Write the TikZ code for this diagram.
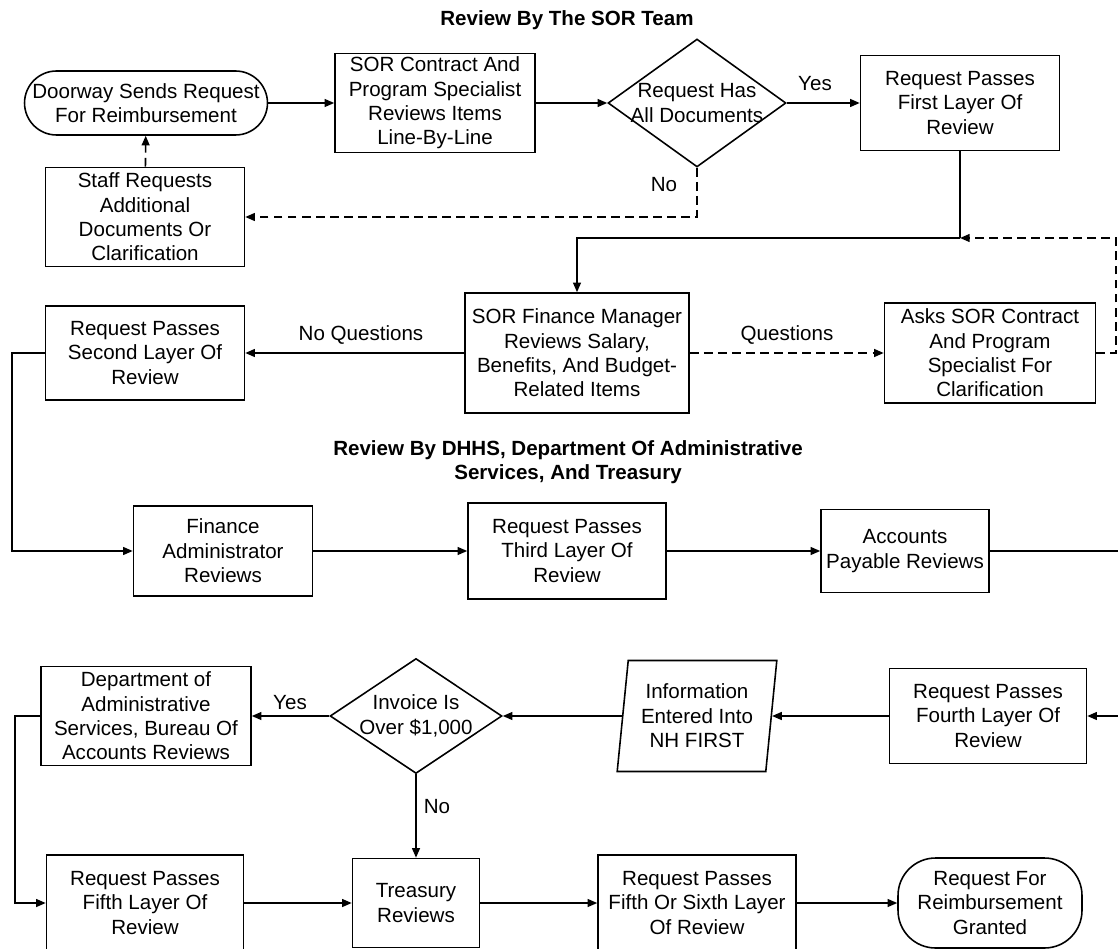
\documentclass[tikz,border=0pt]{standalone}
\usepackage{fontspec}
\setmainfont{Liberation Sans}
\usetikzlibrary{shapes.geometric,arrows.meta}

\begin{document}
\begin{tikzpicture}[
  x=0.02cm, y=-0.02cm,
  every node/.style={font=\fontsize{11.7}{13.9}\selectfont, align=center, inner sep=0pt},
  box/.style={draw, rectangle, line width=0.9pt},
  term/.style={draw, rectangle, rounded corners=#1, line width=0.9pt},
  decide/.style={draw, diamond, line width=0.9pt},
  inout/.style={draw, trapezium, trapezium left angle=82, trapezium right angle=98,
    trapezium stretches=true, line width=0.9pt},
  heading/.style={font=\fontsize{11.7}{13.9}\selectfont\bfseries},
  flow/.style={line width=0.9pt, -{Triangle[length=5.5pt,width=4.5pt]}},
  plainline/.style={line width=0.9pt},
  backflow/.style={flow, dash pattern=on 5pt off 3pt}
]
\useasboundingbox (0,0) rectangle (1118,949);

% review by the SOR team:
\node[heading] (title1) at (567,20) {Review By The SOR Team};
\node[term=0.64cm, minimum width=4.86cm, minimum height=1.28cm] (door) at (146,103) {Doorway Sends Request\\For Reimbursement};
\node[box, minimum width=4cm, minimum height=1.98cm] (spec) at (435,103) {SOR Contract And\\Program Specialist\\Reviews Items\\Line-By-Line};
\node[decide, minimum width=3.56cm, minimum height=2.56cm] (docs) at (697,103) {};
\node (docstext) at (docs) {Request Has\\All Documents};
\node[box, minimum width=3.98cm, minimum height=1.9cm] (pass1) at (960,103) {Request Passes\\First Layer Of\\Review};
\node[box, minimum width=3.98cm, minimum height=1.98cm] (staff) at (145,217) {Staff Requests\\Additional\\Documents Or\\Clarification};
\node (yes1) at (815,84) {Yes};
\node (no1) at (664,185) {No};

\node[box, minimum width=4.48cm, minimum height=2.4cm] (fin) at (577,353) {SOR Finance Manager\\Reviews Salary,\\Benefits, And Budget-\\Related Items};
\node[box, minimum width=3.98cm, minimum height=1.88cm] (pass2) at (145,353) {Request Passes\\Second Layer Of\\Review};
\node[box, minimum width=4.22cm, minimum height=2cm] (asks) at (990,353) {Asks SOR Contract\\And Program\\Specialist For\\Clarification};
\node (noq) at (361,335) {No Questions};
\node (quest) at (787,335) {Questions};

% review by DHHS, DAS and treasury:
\node[heading] (title2) at (568,462) {Review By DHHS, Department Of Administrative\\Services, And Treasury};
\node[box, minimum width=3.58cm, minimum height=1.8cm] (admin) at (223,551) {Finance\\Administrator\\Reviews};
\node[box, minimum width=3.96cm, minimum height=1.92cm] (pass3) at (567,551) {Request Passes\\Third Layer Of\\Review};
\node[box, minimum width=3.36cm, minimum height=1.66cm] (payable) at (905,551) {Accounts\\Payable Reviews};

\node[box, minimum width=3.94cm, minimum height=1.9cm] (pass4) at (988,716) {Request Passes\\Fourth Layer Of\\Review};
\node[inout, minimum width=3.2cm, minimum height=2.22cm] (nhfirst) at (697,716) {Information\\Entered Into\\NH FIRST};
\node[decide, minimum width=3.44cm, minimum height=2.3cm] (invoice) at (416,716) {};
\node (invoicetext) at (invoice) {Invoice Is\\Over \$1,000};
\node[box, minimum width=4.2cm, minimum height=1.98cm] (dept) at (146,716) {Department of\\Administrative\\Services, Bureau Of\\Accounts Reviews};
\node (yes2) at (290,703) {Yes};
\node (no2) at (437,807) {No};

\node[box, minimum width=3.94cm, minimum height=1.92cm] (pass5) at (145,903) {Request Passes\\Fifth Layer Of\\Review};
\node[box, minimum width=2.54cm, minimum height=1.78cm] (treasury) at (416,903) {Treasury\\Reviews};
\node[box, minimum width=3.96cm, minimum height=1.92cm] (pass56) at (697,903) {Request Passes\\Fifth Or Sixth Layer\\Of Review};
\node[term=0.75cm, minimum width=3.68cm, minimum height=1.8cm] (granted) at (990,903) {Request For\\Reimbursement\\Granted};

\coordinate (join) at (960,238);
\coordinate (rim) at (1116,238);
\coordinate (leftA) at (12,353);
\coordinate (edgeA) at (1118,551);
\coordinate (edgeB) at (1118,716);
\coordinate (leftB) at (15,716);

% connectors
\draw[flow] (door) -- (spec);
\draw[flow] (spec) -- (docs);
\draw[flow] (docs) -- (pass1);
\draw[backflow] (docs.south) |- (staff.east);
\draw[backflow] (staff) -- (door);
\draw[plainline] (pass1) -- (join);
\draw[flow] (join) -| (fin);
\draw[flow] (fin) -- (pass2);
\draw[backflow] (fin) -- (asks);
\draw[backflow] (asks.east) -| (rim) -- (join);
\draw[flow] (pass2.west) -- (leftA) |- (admin.west);
\draw[flow] (admin) -- (pass3);
\draw[flow] (pass3) -- (payable);
\draw[plainline] (payable) -- (edgeA);
\draw[flow] (edgeB) -- (pass4);
\draw[flow] (pass4) -- (nhfirst);
\draw[flow] (nhfirst) -- (invoice);
\draw[flow] (invoice) -- (dept);
\draw[flow] (invoice) -- (treasury);
\draw[flow] (dept.west) -- (leftB) |- (pass5.west);
\draw[flow] (pass5) -- (treasury);
\draw[flow] (treasury) -- (pass56);
\draw[flow] (pass56) -- (granted);

\end{tikzpicture}
\end{document}
